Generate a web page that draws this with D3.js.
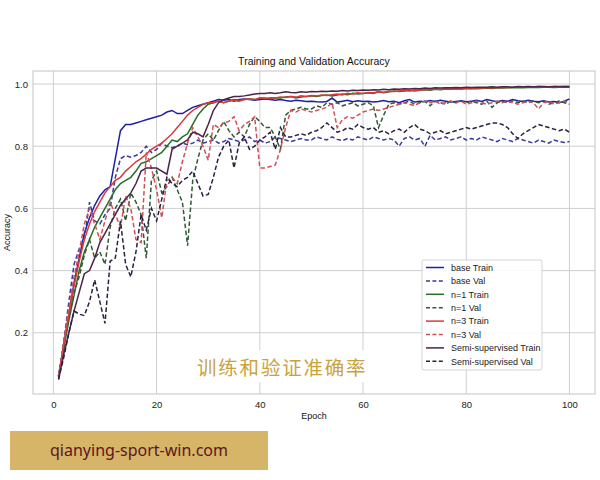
<!DOCTYPE html>
<html>
<head>
<meta charset="utf-8">
<script src="https://cdn.jsdelivr.net/npm/d3@7"></script>
<style>
  body { margin: 0; background: #fff; }
  svg text { font-family: "Liberation Sans", Arial, sans-serif; }
</style>
</head>
<body>
<div id="chart"></div>
<script>
// values, epochs 1..100
var epochs = d3.range(1, 101);

var baseTrain = [0.06,0.16,0.26,0.36,0.44,0.52,0.57,0.61,0.64,0.66, 0.67,0.76,0.85,0.87,0.87,0.875,0.88,0.885,0.89,0.895,
  0.90,0.91,0.915,0.905,0.905,0.915,0.925,0.93,0.935,0.94, 0.945,0.95,0.948,0.95,0.945,0.95,0.952,0.95,0.948,0.95,
  0.952,0.95,0.948,0.95,0.947,0.945,0.948,0.946,0.944,0.945, 0.943,0.942,0.944,0.955,0.942,0.945,0.948,0.943,0.946,0.944,
  0.945,0.942,0.944,0.947,0.943,0.945,0.94,0.946,0.95,0.942, 0.945,0.943,0.947,0.944,0.948,0.945,0.942,0.944,0.946,0.943,
  0.945,0.948,0.944,0.95,0.946,0.943,0.947,0.945,0.95,0.946, 0.944,0.948,0.945,0.943,0.946,0.942,0.944,0.94,0.945,0.952];

var baseVal = [0.06,0.17,0.30,0.42,0.47,0.50,0.62,0.56,0.55,0.58, 0.60,0.70,0.76,0.77,0.765,0.77,0.78,0.80,0.78,0.79,
  0.81,0.80,0.795,0.80,0.81,0.805,0.81,0.82,0.81,0.815, 0.82,0.81,0.815,0.825,0.82,0.815,0.82,0.83,0.815,0.82,
  0.81,0.815,0.83,0.825,0.82,0.815,0.82,0.825,0.82,0.82, 0.83,0.825,0.82,0.83,0.822,0.818,0.825,0.82,0.83,0.825,
  0.82,0.83,0.825,0.82,0.825,0.82,0.80,0.825,0.83,0.82, 0.825,0.80,0.835,0.82,0.825,0.83,0.82,0.825,0.83,0.82,
  0.825,0.82,0.83,0.825,0.82,0.815,0.825,0.82,0.815,0.825, 0.82,0.815,0.81,0.82,0.815,0.81,0.82,0.815,0.812,0.815];

var n1Train = [0.06,0.15,0.24,0.32,0.40,0.46,0.50,0.54,0.57,0.60, 0.63,0.66,0.68,0.69,0.70,0.72,0.745,0.75,0.76,0.77,
  0.78,0.80,0.82,0.815,0.83,0.84,0.87,0.90,0.92,0.935, 0.94,0.945,0.94,0.945,0.95,0.948,0.95,0.952,0.95,0.955,
  0.955,0.952,0.956,0.955,0.958,0.96,0.955,0.958,0.96,0.962, 0.96,0.963,0.965,0.962,0.965,0.968,0.966,0.97,0.968,0.97,
  0.972,0.97,0.975,0.972,0.975,0.978,0.976,0.978,0.98,0.978, 0.98,0.982,0.98,0.983,0.982,0.984,0.983,0.985,0.984,0.985,
  0.986,0.985,0.986,0.987,0.986,0.988,0.987,0.988,0.988,0.989, 0.988,0.989,0.99,0.989,0.99,0.99,0.989,0.99,0.99,0.99];

var n1Val = [0.06,0.15,0.25,0.33,0.38,0.45,0.50,0.44,0.46,0.42, 0.54,0.60,0.63,0.56,0.65,0.62,0.58,0.44,0.69,0.72,
  0.65,0.67,0.70,0.66,0.62,0.48,0.69,0.76,0.82,0.84, 0.82,0.85,0.88,0.85,0.83,0.845,0.83,0.87,0.895,0.88,
  0.86,0.86,0.83,0.79,0.90,0.915,0.92,0.925,0.92,0.92, 0.93,0.925,0.94,0.935,0.94,0.93,0.935,0.94,0.93,0.935,
  0.94,0.93,0.86,0.90,0.935,0.94,0.935,0.94,0.945,0.935, 0.94,0.945,0.93,0.945,0.94,0.935,0.945,0.94,0.945,0.94,
  0.945,0.94,0.935,0.945,0.925,0.94,0.945,0.94,0.945,0.94, 0.945,0.94,0.945,0.94,0.945,0.935,0.94,0.945,0.94,0.935];

var n3Train = [0.06,0.16,0.26,0.35,0.43,0.50,0.55,0.59,0.62,0.65, 0.67,0.69,0.70,0.72,0.735,0.75,0.76,0.775,0.79,0.80,
  0.81,0.825,0.84,0.86,0.88,0.90,0.915,0.925,0.935,0.94, 0.94,0.945,0.94,0.945,0.948,0.945,0.95,0.952,0.95,0.955,
  0.953,0.956,0.955,0.958,0.957,0.96,0.958,0.962,0.96,0.963, 0.962,0.965,0.963,0.966,0.968,0.965,0.97,0.968,0.972,0.97,
  0.973,0.972,0.975,0.974,0.977,0.976,0.978,0.98,0.978,0.981, 0.98,0.983,0.982,0.984,0.983,0.985,0.984,0.986,0.985,0.987,
  0.986,0.988,0.987,0.988,0.989,0.988,0.99,0.989,0.99,0.991, 0.99,0.991,0.99,0.992,0.991,0.99,0.992,0.991,0.992,0.992];

var n3Val = [0.06,0.17,0.28,0.38,0.46,0.55,0.60,0.55,0.50,0.56, 0.62,0.58,0.54,0.64,0.60,0.50,0.49,0.78,0.73,0.66,
  0.57,0.69,0.70,0.68,0.75,0.81,0.86,0.83,0.80,0.755, 0.87,0.86,0.875,0.88,0.895,0.85,0.87,0.88,0.895,0.73,
  0.73,0.735,0.74,0.79,0.86,0.915,0.91,0.92,0.915,0.91, 0.915,0.92,0.925,0.94,0.86,0.885,0.895,0.89,0.90,0.91,
  0.915,0.92,0.915,0.92,0.925,0.93,0.935,0.94,0.935,0.93, 0.94,0.945,0.94,0.945,0.935,0.94,0.945,0.94,0.945,0.935,
  0.94,0.945,0.94,0.935,0.94,0.945,0.94,0.945,0.94,0.935, 0.94,0.945,0.94,0.92,0.94,0.945,0.935,0.94,0.945,0.94];

var semiTrain = [0.05,0.13,0.20,0.27,0.33,0.39,0.40,0.44,0.49,0.52, 0.55,0.58,0.61,0.63,0.65,0.68,0.72,0.73,0.73,0.73,
  0.72,0.71,0.79,0.80,0.81,0.82,0.845,0.84,0.83,0.87, 0.915,0.94,0.95,0.955,0.96,0.96,0.962,0.965,0.968,0.97,
  0.97,0.972,0.97,0.972,0.975,0.973,0.972,0.975,0.974,0.976, 0.975,0.977,0.976,0.978,0.977,0.979,0.978,0.98,0.979,0.981,
  0.98,0.982,0.981,0.983,0.982,0.984,0.983,0.985,0.984,0.986, 0.985,0.987,0.986,0.988,0.987,0.988,0.988,0.989,0.988,0.99,
  0.989,0.99,0.99,0.99,0.991,0.99,0.991,0.991,0.99,0.992, 0.991,0.992,0.991,0.992,0.992,0.991,0.992,0.992,0.992,0.992];

var semiVal = [0.05,0.12,0.20,0.27,0.26,0.255,0.30,0.37,0.30,0.23, 0.43,0.44,0.56,0.42,0.38,0.46,0.58,0.53,0.60,0.56,
  0.63,0.70,0.68,0.67,0.69,0.70,0.72,0.68,0.64,0.645, 0.70,0.765,0.80,0.82,0.73,0.81,0.83,0.79,0.80,0.82,
  0.83,0.845,0.79,0.86,0.83,0.83,0.835,0.84,0.835,0.845, 0.85,0.86,0.875,0.86,0.845,0.85,0.86,0.855,0.87,0.86,
  0.855,0.86,0.845,0.85,0.84,0.85,0.855,0.845,0.86,0.87, 0.855,0.85,0.84,0.845,0.85,0.84,0.845,0.85,0.855,0.86,
  0.855,0.86,0.865,0.87,0.875,0.875,0.87,0.86,0.84,0.825, 0.84,0.85,0.86,0.87,0.865,0.86,0.855,0.85,0.855,0.845];

var seriesNames = ["base Train", "base Val", "n=1 Train", "n=1 Val", "n=3 Train", "n=3 Val", "Semi-supervised Train", "Semi-supervised Val"];
var seriesValues = [baseTrain, baseVal, n1Train, n1Val, n3Train, n3Val, semiTrain, semiVal];
var seriesColors = ["#1f1fa8", "#3a3aa0", "#237023", "#2f5a34", "#d83a3a", "#d05058", "#4b2448", "#2a2040"];

var xTicks = [0, 20, 40, 60, 80, 100];
var yTicks = [0.2, 0.4, 0.6, 0.8, 1.0];

var width = 600, height = 480;
// plot box in pixels ("top" would clash with window.top)
var plotLeft = 33, plotRight = 595, plotTop = 71, plotBottom = 394;

var svg = d3.select("#chart").append("svg")
  .attr("width", width)
  .attr("height", height);

var x = d3.scaleLinear().domain([-3.95, 104.95]).range([plotLeft, plotRight]);
var y = d3.scaleLinear().domain([0.003, 1.042]).range([plotBottom, plotTop]);

// grid
svg.append("g").selectAll("line").data(xTicks).join("line")
  .attr("x1", d => x(d)).attr("x2", d => x(d))
  .attr("y1", plotTop).attr("y2", plotBottom)
  .attr("stroke", "#cfcfcf").attr("stroke-width", 1);
svg.append("g").selectAll("line").data(yTicks).join("line")
  .attr("x1", plotLeft).attr("x2", plotRight)
  .attr("y1", d => y(d)).attr("y2", d => y(d))
  .attr("stroke", "#cfcfcf").attr("stroke-width", 1);

// frame
svg.append("rect")
  .attr("x", plotLeft).attr("y", plotTop)
  .attr("width", plotRight - plotLeft).attr("height", plotBottom - plotTop)
  .attr("fill", "none").attr("stroke", "#c4c4c4").attr("stroke-width", 1);

// axes, tick marks hidden like the whitegrid style
var xAxis = svg.append("g")
  .attr("transform", "translate(0," + plotBottom + ")")
  .call(d3.axisBottom(x).tickValues(xTicks).tickSize(0).tickPadding(7).tickFormat(d3.format("d")));
var yAxis = svg.append("g")
  .attr("transform", "translate(" + plotLeft + ",0)")
  .call(d3.axisLeft(y).tickValues(yTicks).tickSize(0).tickPadding(5).tickFormat(d3.format(".1f")));
[xAxis, yAxis].forEach(a => {
  a.select(".domain").remove();
  a.selectAll("text").attr("font-size", 9.5).attr("fill", "#222")
    .style("font-family", "'Liberation Sans', Arial, sans-serif");
});

// lines
var line = d3.line()
  .x((d, i) => x(epochs[i]))
  .y(d => y(d));

seriesValues.forEach((vals, i) => {
  svg.append("path")
    .datum(vals)
    .attr("d", line)
    .attr("fill", "none")
    .attr("stroke", seriesColors[i])
    .attr("stroke-width", 1.5)
    .attr("stroke-dasharray", i % 2 ? "4.5,2.5" : null);
});

// titles
svg.append("text")
  .attr("x", (plotLeft + plotRight) / 2).attr("y", 65)
  .attr("text-anchor", "middle").attr("font-size", 10.5).attr("fill", "#111")
  .text("Training and Validation Accuracy");
svg.append("text")
  .attr("x", (plotLeft + plotRight) / 2).attr("y", 419)
  .attr("text-anchor", "middle").attr("font-size", 9).attr("fill", "#111")
  .text("Epoch");
svg.append("text")
  .attr("transform", "translate(10," + ((plotTop + plotBottom) / 2) + ") rotate(-90)")
  .attr("text-anchor", "middle").attr("font-size", 9).attr("fill", "#111")
  .text("Accuracy");

// legend
var legend = svg.append("g").attr("transform", "translate(422,260)");
legend.append("rect")
  .attr("width", 120).attr("height", 110).attr("rx", 2)
  .attr("fill", "#fff").attr("fill-opacity", 0.9)
  .attr("stroke", "#d4d4d4");
seriesNames.forEach((name, i) => {
  var yy = 7.5 + i * 13.4;
  legend.append("line")
    .attr("x1", 4).attr("x2", 22).attr("y1", yy).attr("y2", yy)
    .attr("stroke", seriesColors[i]).attr("stroke-width", 1.5)
    .attr("stroke-dasharray", i % 2 ? "4,2.4" : null);
  legend.append("text")
    .attr("x", 29).attr("y", yy + 3.3)
    .attr("font-size", 9).attr("fill", "#222")
    .text(name);
});

// watermark caption over the plot
svg.append("rect")
  .attr("x", 191).attr("y", 350).attr("width", 181).attr("height", 32)
  .attr("fill", "#fff");
svg.append("text")
  .attr("x", 197).attr("y", 375)
  .attr("font-size", 19.5).attr("fill", "#c9a23c")
  .attr("letter-spacing", 1.8)
  .style("font-family", "'Noto Sans CJK SC', sans-serif")
  .text("训练和验证准确率");

// site banner at the bottom
svg.append("rect")
  .attr("x", 10).attr("y", 431).attr("width", 258).attr("height", 39)
  .attr("fill", "#d6b468");
svg.append("text")
  .attr("x", 139).attr("y", 456)
  .attr("text-anchor", "middle").attr("font-size", 16).attr("fill", "#5c1620")
  .style("font-family", "'Noto Sans', sans-serif")
  .text("qianying-sport-win.com");
</script>
</body>
</html>
